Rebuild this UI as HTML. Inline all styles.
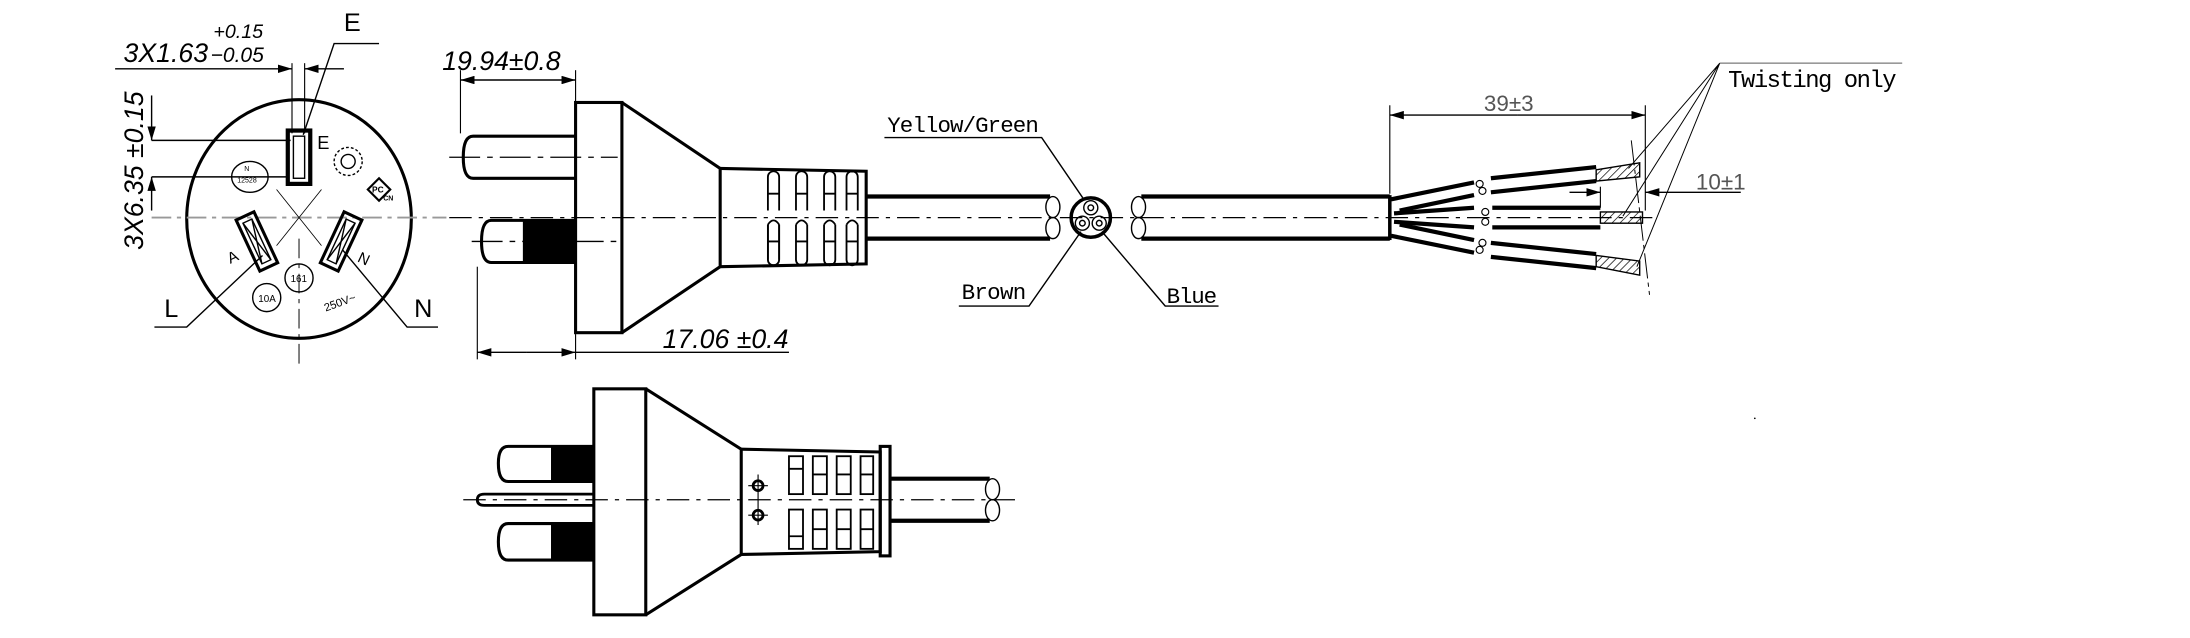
<!DOCTYPE html>
<html><head><meta charset="utf-8"><style>
html,body{margin:0;padding:0;background:#fff}
svg{display:block}
text{font-family:"Liberation Sans Narrow","Liberation Sans",sans-serif;fill:#000}
.m{font-family:"Liberation Mono","DejaVu Sans Mono",monospace}
</style></head><body>
<svg width="2190" height="638" viewBox="0 0 1560 454.5" preserveAspectRatio="none" xmlns="http://www.w3.org/2000/svg">
<defs>
<marker id="a" viewBox="0 0 10 6" refX="10" refY="3" markerWidth="10" markerHeight="6" orient="auto-start-reverse" markerUnits="userSpaceOnUse"><path d="M0,0L10,3L0,6z" fill="#000"/></marker>
<pattern id="h" width="4" height="4" patternUnits="userSpaceOnUse" patternTransform="rotate(45)"><line x1="0" y1="0" x2="0" y2="4" stroke="#000" stroke-width="1"/></pattern>
</defs>
<g fill="none" stroke="#000" stroke-width="1">
<!-- face view -->
<ellipse cx="213" cy="156" rx="80" ry="85" stroke-width="2.2"/>
<line x1="108" y1="155" x2="318" y2="155" stroke="#999" stroke-dasharray="14,4,3,4" stroke-width="1.3"/>
<line x1="213" y1="170" x2="213" y2="262" stroke-dasharray="14,4,3,4" stroke-width="0.7"/>
<line x1="197" y1="135" x2="229" y2="175" stroke-width="0.6"/><line x1="229" y1="135" x2="197" y2="175" stroke-width="0.6"/>
<rect x="205" y="93" width="16" height="38" stroke-width="3"/>
<rect x="209" y="97" width="8" height="30" stroke-width="1"/>
<g transform="translate(183,172) rotate(-25)"><rect x="-7" y="-20" width="14" height="40" stroke-width="2.2"/><rect x="-3.5" y="-16" width="7" height="32"/><line x1="-3.5" y1="-16" x2="3.5" y2="16"/><line x1="3.5" y1="-16" x2="-3.5" y2="16"/></g>
<g transform="translate(243,172) rotate(25)"><rect x="-7" y="-20" width="14" height="40" stroke-width="2.2"/><rect x="-3.5" y="-16" width="7" height="32"/><line x1="-3.5" y1="-16" x2="3.5" y2="16"/><line x1="3.5" y1="-16" x2="-3.5" y2="16"/></g>
<ellipse cx="178" cy="126" rx="13" ry="11"/>
<circle cx="213" cy="198" r="10"/>
<circle cx="190" cy="212" r="10"/>
<circle cx="248" cy="115" r="10" stroke-dasharray="2,1.5"/><circle cx="248" cy="115" r="5"/>
<path d="M262,135l8,-8l8,8l-8,8z" stroke-width="1.5"/>
<!-- E dims -->
<line x1="208" y1="45" x2="208" y2="95" stroke-width="0.8"/><line x1="217" y1="45" x2="217" y2="95" stroke-width="0.8"/>
<line x1="82" y1="49" x2="208" y2="49" marker-end="url(#a)"/><line x1="245" y1="49" x2="217" y2="49" marker-end="url(#a)"/>
<path d="M216,96L238,31H270"/>
<line x1="108" y1="100" x2="207" y2="100"/><line x1="108" y1="126" x2="206" y2="126"/>
<line x1="108" y1="68" x2="108" y2="100" marker-end="url(#a)"/><line x1="108" y1="150" x2="108" y2="126" marker-end="url(#a)"/>
<path d="M187,182L133,233H110"/><path d="M244,178L290,233H312"/>
<!-- side plug top -->
<path d="M410,97H337Q330,97 330,112Q330,127 337,127H410" stroke-width="2.2"/>
<path d="M410,157H350Q343,157 343,172Q343,187 350,187H410" stroke-width="2.2"/>
<rect x="373" y="157" width="37" height="30" fill="#000"/>
<line x1="373" y1="157" x2="373" y2="187"/>
<rect x="410" y="73" width="33" height="164" stroke-width="2.2"/>
<path d="M443,73L513,120V190L443,237" stroke-width="2.2"/>
<path d="M513,120L617,122V188L513,190" stroke-width="2.2"/>
<g stroke-width="1.3">
<path d="M547,150V126a4,4 0 0 1 8,0V150M567,150V126a4,4 0 0 1 8,0V150M587,150V126a4,4 0 0 1 8,0V150M603,150V126a4,4 0 0 1 8,0V150"/>
<path d="M547,160V185a4,4 0 0 0 8,0V160M567,160V185a4,4 0 0 0 8,0V160M587,160V185a4,4 0 0 0 8,0V160M603,160V185a4,4 0 0 0 8,0V160"/>
<path d="M547,160V185M555,160V185M547,172H555M567,172H575M587,172H595M603,172H611M547,138H555M567,138H575M587,138H595M603,138H611"/>
<path d="M547,160Q551,154 555,160M567,160Q571,154 575,160M587,160Q591,154 595,160M603,160Q607,154 611,160"/>
</g>
<line x1="617" y1="140" x2="748" y2="140" stroke-width="3"/><line x1="617" y1="170" x2="748" y2="170" stroke-width="3"/>
<ellipse cx="750" cy="147.5" rx="5" ry="7.5"/><ellipse cx="750" cy="162.5" rx="5" ry="7.5"/>
<ellipse cx="811" cy="147.5" rx="5" ry="7.5"/><ellipse cx="811" cy="162.5" rx="5" ry="7.5"/>
<circle cx="777" cy="155" r="14" stroke-width="2.5"/>
<circle cx="777" cy="148" r="5"/><circle cx="777" cy="148" r="2"/>
<circle cx="771" cy="159" r="5"/><circle cx="771" cy="159" r="2"/>
<circle cx="783" cy="159" r="5"/><circle cx="783" cy="159" r="2"/>
<line x1="813" y1="140" x2="990" y2="140" stroke-width="3"/><line x1="813" y1="170" x2="990" y2="170" stroke-width="3"/>
<line x1="990" y1="139" x2="990" y2="171" stroke-width="2.5"/>
<line x1="320" y1="155" x2="1180" y2="155" stroke-dasharray="16,5,3,5" stroke-width="0.9"/>
<line x1="320" y1="112" x2="440" y2="112" stroke-dasharray="22,5,4,5" stroke-width="0.9"/>
<line x1="336" y1="172" x2="440" y2="172" stroke-dasharray="22,5,4,5" stroke-width="0.9"/>
<!-- dims side -->
<line x1="328" y1="50" x2="328" y2="95" stroke-width="0.8"/><line x1="410" y1="50" x2="410" y2="72" stroke-width="0.8"/>
<line x1="369" y1="57" x2="328" y2="57" marker-end="url(#a)"/><line x1="369" y1="57" x2="410" y2="57" marker-end="url(#a)"/>
<line x1="340" y1="190" x2="340" y2="256" stroke-width="0.8"/><line x1="410" y1="238" x2="410" y2="256" stroke-width="0.8"/>
<line x1="375" y1="251" x2="340" y2="251" marker-end="url(#a)"/><line x1="375" y1="251" x2="410" y2="251" marker-end="url(#a)"/><line x1="410" y1="251" x2="562" y2="251"/>
<path d="M630,98H742L772,142"/><path d="M683,218H733L770,165"/><path d="M868,218H830L785,165"/>
<!-- wires -->
<g stroke-width="3">
<path d="M991,142L1050,130M1062,127L1137,119"/><path d="M997,150L1050,139M1062,137L1137,129"/>
<path d="M997,160L1050,171M1062,173L1137,181"/><path d="M991,168L1050,180M1062,183L1137,191"/>
<path d="M1063,148H1140M1063,162H1140"/>
<path d="M993,152L1050,148M993,158L1050,162"/>
</g>
<g stroke-width="0.8">
<circle cx="1054" cy="131" r="2.5"/><circle cx="1056" cy="136" r="2.5"/><circle cx="1058" cy="151" r="2.5"/><circle cx="1058" cy="158" r="2.5"/><circle cx="1056" cy="173" r="2.5"/><circle cx="1054" cy="178" r="2.5"/>
</g>
<path d="M1137,121L1168,116V126L1137,129z" fill="url(#h)"/>
<rect x="1140" y="151" width="30" height="8" fill="url(#h)"/>
<path d="M1137,182L1168,186V196L1137,190z" fill="url(#h)"/>
<line x1="1162" y1="100" x2="1175" y2="210" stroke-dasharray="18,3,3,3" stroke-width="0.7"/>
<line x1="990" y1="75" x2="990" y2="138" stroke-width="0.8"/><line x1="1172" y1="75" x2="1172" y2="150" stroke-width="0.8"/>
<line x1="1081" y1="82" x2="990" y2="82" marker-end="url(#a)"/><line x1="1081" y1="82" x2="1172" y2="82" marker-end="url(#a)"/>
<line x1="1118" y1="137" x2="1140" y2="137" marker-end="url(#a)"/><line x1="1240" y1="137" x2="1172" y2="137" marker-end="url(#a)"/>
<line x1="1140" y1="133" x2="1140" y2="148" stroke-width="0.8"/>
<line x1="1225" y1="45" x2="1355" y2="45" stroke="#999" stroke-width="1.2"/>
<path d="M1225,45L1160,120M1225,45L1156,154M1225,45L1166,190" stroke-width="0.7"/>
<!-- bottom plug -->
<line x1="330" y1="356" x2="725" y2="356" stroke-dasharray="16,5,3,5" stroke-width="0.9"/>
<path d="M423,318H362Q355,318 355,330Q355,343 362,343H423" stroke-width="2.2"/>
<path d="M423,373H362Q355,373 355,386Q355,399 362,399H423" stroke-width="2.2"/>
<rect x="393" y="318" width="30" height="25" fill="#000"/><rect x="393" y="373" width="30" height="26" fill="#000"/>
<path d="M423,352H345Q340,352 340,356Q340,360 345,360H423" stroke-width="2"/>
<rect x="423" y="277" width="37" height="161" stroke-width="2.2"/>
<path d="M460,277L528,320V395L460,438" stroke-width="2.2"/>
<path d="M528,320L627,322V393L528,395" stroke-width="2.2"/>
<rect x="627" y="318" width="7" height="78" stroke-width="2.2"/>
<g stroke-width="1.3">
<rect x="562" y="325" width="10" height="27"/><rect x="579" y="325" width="10" height="27"/><rect x="596" y="325" width="10" height="27"/><rect x="613" y="325" width="9" height="27"/>
<rect x="562" y="363" width="10" height="28"/><rect x="579" y="363" width="10" height="28"/><rect x="596" y="363" width="10" height="28"/><rect x="613" y="363" width="9" height="28"/>
<path d="M562,334H572M579,338H589M596,338H606M613,338H622M562,382H572M579,377H589M596,377H606M613,377H622"/>
</g>
<circle cx="540" cy="346" r="3.5" stroke-width="2"/><circle cx="540" cy="367" r="3.5" stroke-width="2"/>
<path d="M533,346H547M540,338V374M533,367H547" stroke-width="0.8"/>
<line x1="634" y1="341" x2="705" y2="341" stroke-width="3"/><line x1="634" y1="371" x2="705" y2="371" stroke-width="3"/>
<ellipse cx="707" cy="348.5" rx="5" ry="7.5"/><ellipse cx="707" cy="363.5" rx="5" ry="7.5"/>
</g>
<circle cx="1250" cy="298" r="0.6" fill="#000"/>
<!-- text -->
<text x="88" y="44" font-size="19" font-style="italic">3X1.63</text>
<text x="152" y="27" font-size="14" font-style="italic">+0.15</text>
<text x="150" y="44" font-size="15" font-style="italic">−0.05</text>
<text x="245" y="22" font-size="18" font-family="Liberation Serif">E</text>
<text x="226" y="106" font-size="13">E</text>
<text transform="translate(102,178) rotate(-90)" font-size="19" font-style="italic">3X6.35 ±0.15</text>
<text x="174" y="122" font-size="5">N</text><text x="169" y="130" font-size="5">12528</text>
<text x="207" y="201" font-size="7">161</text><text x="184" y="215" font-size="7">10A</text>
<text transform="translate(232,222) rotate(-20)" font-size="8">250V~</text>
<text x="265" y="137" font-size="6" font-weight="bold">PC</text><text x="273" y="143" font-size="5" font-weight="bold">CN</text>
<text x="164" y="188" font-size="11" transform="rotate(-25 164 188)">A</text>
<text x="254" y="186" font-size="11" transform="rotate(25 254 186)">N</text>
<text x="117" y="226" font-size="18" font-family="Liberation Serif">L</text>
<text x="295" y="226" font-size="18" font-family="Liberation Serif">N</text>
<text x="315" y="50" font-size="19" font-style="italic">19.94±0.8</text>
<text x="472" y="248" font-size="19" font-style="italic">17.06 ±0.4</text>
<text x="632" y="94" font-size="16" class="m" textLength="108">Yellow/Green</text>
<text x="685" y="213" font-size="16" class="m" textLength="46">Brown</text>
<text x="831" y="216" font-size="16" class="m" textLength="36">Blue</text>
<text x="1057" y="79" font-size="16" fill="#555" style="fill:#555">39±3</text>
<text x="1208" y="135" font-size="16" style="fill:#555">10±1</text>
<text x="1231" y="62" font-size="17" class="m" textLength="120">Twisting only</text>
</svg>
</body></html>
